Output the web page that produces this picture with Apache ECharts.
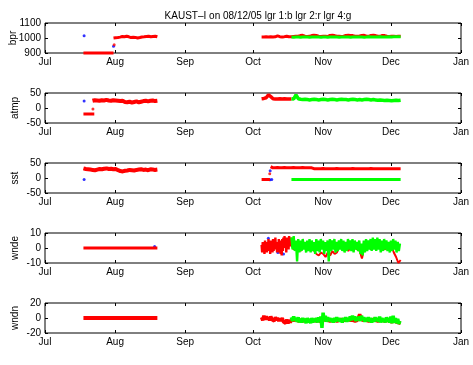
<!DOCTYPE html>
<html><head><meta charset="utf-8">
<script src="https://cdn.jsdelivr.net/npm/echarts@6/dist/echarts.min.js"></script>
<style>html,body{margin:0;padding:0;background:#fff}#c{width:473px;height:365px}</style>
</head><body><div id="c"></div>
<script>
// x = days since Jul 1
const monthTicks = [0, 31, 62, 92, 123, 153, 184];
const monthLabels = ['Jul', 'Aug', 'Sep', 'Oct', 'Nov', 'Dec', 'Jan'];
const panelNames = ['bpr', 'atmp', 'sst', 'wnde', 'wndn'];
const yMin = [900, -50, -50, -10, -20];
const yMax = [1100, 50, 50, 10, 20];
const yStep = [100, 50, 50, 10, 20];

// ---- bpr ----
const bprBlue = [[17.3, 1015], [30.3, 945]];
const bprRedFlat = [[17, 900], [30.3, 900]];
const bprRedDots = [[30.6, 955]];
const bprRedAug = [1000, 1002, 1003, 1006, 1010, 1008, 1012, 1008, 1003, 1005, 1004, 1000, 1003, 1007, 1008, 1010, 1012, 1008, 1010, 1012, 1008];
const bprRedOct = [1006, 1006, 1008, 1007, 1009, 1007, 1008, 1014, 1009, 1007, 1009, 1012, 1008, 1008,
  1010, 1011, 1012, 1016, 1018, 1012, 1010, 1011, 1016, 1018, 1017, 1012, 1010, 1011, 1012, 1010, 1017, 1018, 1016, 1012, 1011, 1010, 1012, 1017, 1018, 1017, 1016, 1012, 1011, 1013, 1017, 1018, 1012, 1011, 1017, 1018, 1016, 1012, 1011, 1017, 1016, 1012, 1010, 1011, 1012, 1010, 1012, 1011];
const bprGreen = [1006, 1005, 1006, 1006, 1005, 1006, 1007, 1006, 1005, 1006, 1006, 1007, 1006, 1005, 1006, 1006, 1005, 1006, 1007, 1006, 1006, 1005, 1006, 1006, 1007, 1006, 1005, 1006, 1006, 1007, 1006, 1006, 1005, 1006, 1008, 1007, 1006, 1006, 1007, 1008, 1007, 1006, 1007, 1008, 1007, 1008, 1009, 1008, 1008];

// ---- atmp ----
const atmpBlue = [[17.3, 23]];
const atmpRedFlat = [[17, -20], [21.8, -20]];
const atmpRedDots = [[21.2, -3]];
const atmpRedAug = [24, 26, 25, 24, 26, 25, 27, 25, 24, 26, 25, 24, 23, 24, 20, 19, 21, 18, 20, 22, 19, 21, 23, 24, 22, 24, 25, 23, 24];
const atmpRedOct = [31, 32, 34, 44, 38, 31, 30, 30, 31, 30, 31, 30, 30, 30];
const atmpGreen = [31, 30, 44, 31, 29, 28, 29, 28, 27, 28, 29, 28, 27, 28, 29, 28, 27, 28, 29, 28, 27, 28, 29, 28, 28, 27, 28, 29, 28, 27, 28, 27, 28, 29, 28, 27, 28, 27, 26, 27, 26, 25, 26, 25, 24, 25, 26, 25, 26];

// ---- sst ----
const sstBlue = [[17.3, -5], [98.5, -5], [99.5, -6], [100.3, -5], [99.6, 24]];
const sstRedFlat = [[95.8, -5], [99.5, -5]];
const sstRedDots = [[99.4, 14]];
const sstRedAug = [32, 30, 29, 28, 27, 26, 28, 30, 29, 31, 32, 30, 31, 29, 30, 26, 23, 22, 24, 25, 27, 26, 25, 27, 28, 29, 27, 28, 26, 29, 28, 27, 28];
const sstRedOct = [38, 34, 34, 35, 34, 34, 35, 34, 34, 34, 35, 34, 34, 34, 35, 34, 34, 34, 34,
  31, 31, 31, 31, 32, 31, 31, 31, 31, 31, 32, 31, 31, 31, 31, 31, 31, 32, 31, 31, 31, 31, 31, 31, 31, 32, 31, 31, 31, 31, 31, 31, 31, 31, 31, 31, 31, 31, 31];
const sstGreen = [[109, -5], [157.3, -5]];

// ---- wnde ----
const wndeBlue = [[48.5, 1], [98.8, 6.5], [103, -3], [105.5, -4]];
const wndeRedFlat = [[17, 0], [49.7, 0]];
const wndeRedOctA = [2, -3, 4, -2, 3, -4, 5, -1, 2, -3, 4, -2, 6, -2, 3, -4, 5, -1, 4, -3, 6, -2, 5, -1, 7, 0, 3, -3, 4, -2, 6, -3, 5, -4, 3, -5, 6, -2, 7, 0, 8, 1, 5, -3, 7, 2, 6, -1, 8, 3, 6, 1, 7];
const wndeRedOctB = [2, -1, 3, 0, -2, 1, 2, -1, 0, 3, -2, -4, -5, -3, -4, -6, -3, -5, -2, -4, -3, 1, 2, -1, 0, -2, 1, 3, 0, -1, -2, -7, 0, 2, 1, -1, 2, 3, 0, 1, 2, -1, 0, 2, 1, -3, -6, -10, -8];
const wndeGreen = [7, -1, 8, -2, 5, -9, 6, -3, 5, -2, 6, -1, 4, -3, 5, -2, 6, -3, 5, -2, 4, -4, 6, -2, 5, -3, 6, -1, 5, -4, 4, -2, 5, -9, 6, -2, 5, -1, 6, -3, 4, -2, 5, -1, 6, -2, 5, -3, 4, -2, 6, -1, 5, -2, 6, -3, 5, -1, 4, -2, 5, -4, 3, -5, 5, -3, 6, -2, 5, -1, 6, -2, 7, -1, 6, -2, 7, -1, 6, -3, 5, -2, 6, -1, 5, -2, 4, -3, 5, -2, 6, -1, 5, -3, 4, -2, 3];

// ---- wndn ----
const wndnRedFlat = [[17, 0], [49.7, 0]];
const wndnRedOct = [1, -3, 3, -2, 2, -2, 1, -3, 2, -2, 0, -4, 1, -3, 0, -4, -1, -4, 0, -5, -3, -7, -2, -7, -3, -6, -2];
const wndnRedOctB = [-2, -3, -2, -4, -3, -4, -3, -3, -4, -3, -3, -4, -3, -5, -3, -2, -3, -4, -3, -3, -4, -3, -2, -3, -3, -2, -3, -3, -4, -3, 5, -3, -2, -3, -4, -3, -2, -3, -4, -3, -3, -4, -3, -4, -5, -4, -5, -6, -7];
const wndnGreen = [1, -4, 2, -3, 0, -5, 1, -6, -1, -6, 0, -5, -1, -7, 0, -6, -1, -7, 0, -6, -1, -5, 0, -6, 1, -5, 2, -13, 7, -3, 3, -5, 1, -4, 0, -5, -1, -6, 0, -5, 1, -4, 0, -5, -1, -6, 0, -4, 1, -5, 0, -4, 2, -3, 3, -2, 2, -4, 1, -3, 2, -4, 3, -3, 1, -5, 0, -4, 1, -5, 0, -6, -1, -5, 1, -4, 0, -5, 2, -6, 0, -5, -1, -6, 1, -5, 0, -6, 2, -7, 3, -6, 0, -7, -1, -8, -4];

function seg(start, end, vals) {
  const n = vals.length;
  return vals.map((v, i) => [start + i * (end - start) / (n - 1), v]);
}

const BLUE = '#0000ff', RED = '#ff0000', GREEN = '#00ff00';
const defs = [
  [0, 'dots', BLUE, 3, bprBlue],
  [0, 'line', RED, 3, bprRedFlat],
  [0, 'dots', RED, 3, bprRedDots],
  [0, 'line', RED, 3, seg(30.3, 49.7, bprRedAug)],
  [0, 'line', RED, 3, seg(95.8, 157.3, bprRedOct)],
  [0, 'line', GREEN, 3, seg(109, 157.3, bprGreen)],

  [1, 'dots', BLUE, 3, atmpBlue],
  [1, 'line', RED, 3, atmpRedFlat],
  [1, 'dots', RED, 3, atmpRedDots],
  [1, 'line', RED, 4, seg(21, 49.7, atmpRedAug)],
  [1, 'line', RED, 3.5, seg(95.8, 109, atmpRedOct)],
  [1, 'line', GREEN, 3.5, seg(109, 157.3, atmpGreen)],

  [2, 'dots', BLUE, 3, sstBlue],
  [2, 'line', RED, 3, sstRedFlat],
  [2, 'dots', RED, 3, sstRedDots],
  [2, 'line', RED, 4, seg(17, 49.7, sstRedAug)],
  [2, 'line', RED, 3, seg(99.8, 157.3, sstRedOct)],
  [2, 'line', GREEN, 3, sstGreen],

  [3, 'dots', BLUE, 3, wndeBlue],
  [3, 'line', RED, 3, wndeRedFlat],
  [3, 'line', RED, 2.4, seg(95.8, 109, wndeRedOctA)],
  [3, 'line', RED, 2, seg(109, 157.3, wndeRedOctB)],
  [3, 'line', GREEN, 2.4, seg(109, 157, wndeGreen)],

  [4, 'line', RED, 4, wndnRedFlat],
  [4, 'line', RED, 3.5, seg(95.8, 109, wndnRedOct)],
  [4, 'line', RED, 3.5, seg(109, 157.3, wndnRedOctB)],
  [4, 'line', GREEN, 3.5, seg(109, 157, wndnGreen)]
];

const FONT = 'Liberation Sans, Arial, Helvetica, sans-serif';
const nameGaps = [27, 25, 25, 25, 25];
const grids = [], xAxes = [], yAxes = [];
for (let k = 0; k < 5; k++) {
  grids.push({left: 45, right: 12, top: 23 + 70 * k, height: 30, show: true,
    outerBoundsMode: 'none', containLabel: false,
    borderColor: '#000', borderWidth: 1, backgroundColor: 'transparent'});
  const xBase = {type: 'value', gridIndex: k, min: 0, max: 184,
    axisLine: {show: false, onZero: false}, splitLine: {show: false},
    axisTick: {show: true, inside: true, length: 3, customValues: monthTicks, lineStyle: {color: '#000'}}};
  xAxes.push(Object.assign({}, xBase, {position: 'bottom',
    axisLabel: {show: true, margin: 4, fontSize: 10, color: '#000', fontFamily: FONT,
      customValues: monthTicks,
      formatter: v => monthLabels[monthTicks.indexOf(Math.round(v))] || ''}}));
  xAxes.push(Object.assign({}, xBase, {position: 'top', axisLabel: {show: false}}));
  const yBase = {type: 'value', gridIndex: k, min: yMin[k], max: yMax[k], interval: yStep[k],
    axisLine: {show: false, onZero: false}, splitLine: {show: false},
    axisTick: {show: true, inside: true, length: 3, lineStyle: {color: '#000'}}};
  yAxes.push(Object.assign({}, yBase, {position: 'left',
    name: panelNames[k], nameLocation: 'middle', nameRotate: 90, nameGap: nameGaps[k],
    nameMoveOverlap: false,
    nameTextStyle: {fontSize: 10, color: '#000', fontFamily: FONT},
    axisLabel: {show: true, margin: 4, fontSize: 10, color: '#000', fontFamily: FONT,
      formatter: v => String(v)}}));
  yAxes.push(Object.assign({}, yBase, {position: 'right', axisLabel: {show: false}}));
}

const series = defs.map(([k, kind, color, w, data]) => kind === 'dots' ? {
  type: 'scatter', xAxisIndex: 2 * k, yAxisIndex: 2 * k, data: data,
  symbol: 'circle', symbolSize: w, itemStyle: {color: color}, clip: false, silent: true
} : {
  type: 'line', xAxisIndex: 2 * k, yAxisIndex: 2 * k, data: data,
  showSymbol: false, symbol: 'none', lineStyle: {color: color, width: w}, itemStyle: {color: color},
  clip: false, silent: true
});

const chart = echarts.init(document.getElementById('c'), null, {renderer: 'canvas'});
chart.setOption({
  animation: false,
  backgroundColor: '#fff',
  title: {text: 'KAUST–I on 08/12/05 lgr 1:b lgr 2:r lgr 4:g', left: 253, textAlign: 'center', top: 6,
    textStyle: {fontSize: 10, fontWeight: 'normal', color: '#000', fontFamily: FONT}},
  grid: grids, xAxis: xAxes, yAxis: yAxes, series: series
});
</script></body></html>
